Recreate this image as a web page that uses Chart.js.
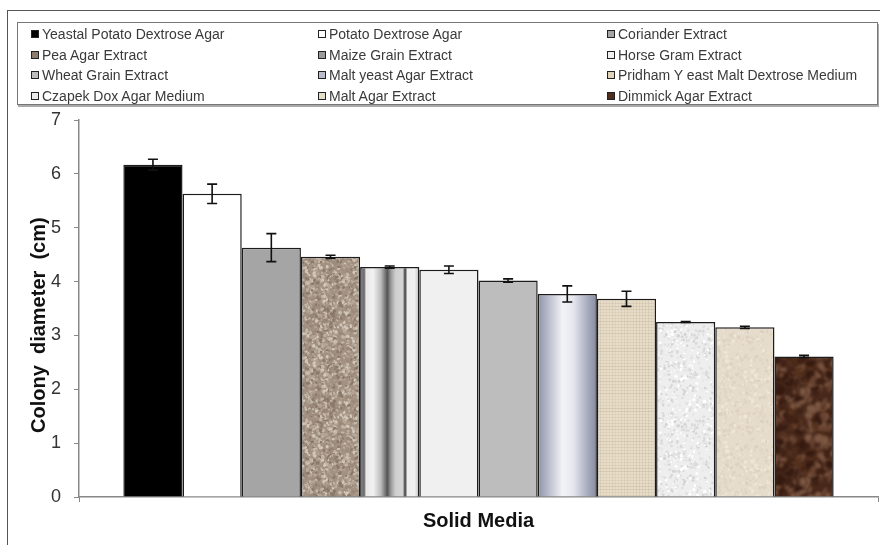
<!DOCTYPE html>
<html lang="en">
<head>
  <meta charset="UTF-8">
  <title>Colony diameter on solid media</title>
  <script src="https://cdn.jsdelivr.net/npm/chart.js"></script>
  <style>
    body { margin: 0; background: #fff; }
    .wrap { position: relative; width: 880px; height: 545px; overflow: hidden; background: #fff; }
    #chart { position: absolute; left: 0; top: 0; }
    .frame {
      position: absolute; left: 7px; top: 10px; right: -10px; bottom: -10px;
      border-top: 1.5px solid #555; border-left: 1.5px solid #555;
      pointer-events: none;
    }
    .legend {
      position: absolute; left: 17px; top: 22px; width: 859px; height: 81px;
      border: 1px solid #777; box-shadow: 1px 2px 0 #aaa; background: #fff;
      font-family: "Liberation Sans", Arial, sans-serif; font-size: 14px; color: #3a3a3a;
    }
    .legend .item { position: absolute; white-space: nowrap; line-height: 16px; }
    .legend .box {
      display: inline-block; width: 6px; height: 6px; border: 1.5px solid #222;
      margin-right: 3px; vertical-align: 1px;
    }
  </style>
</head>
<body>
<div class="wrap">
  <canvas id="chart" width="880" height="545"></canvas>
  <div class="frame"></div>
  <div class="legend" id="legend"></div>
</div>

<script>
// data
var media = [
  'Yeastal Potato Dextrose Agar', 'Potato Dextrose Agar', 'Coriander Extract',
  'Pea Agar Extract', 'Maize Grain Extract', 'Horse Gram Extract',
  'Wheat Grain Extract', 'Malt yeast Agar Extract', 'Pridham Y east Malt Dextrose Medium',
  'Czapek Dox Agar Medium', 'Malt Agar Extract', 'Dimmick Agar Extract'
];
var colonyDiameter = [6.17, 5.63, 4.63, 4.46, 4.27, 4.22, 4.02, 3.77, 3.68, 3.25, 3.15, 2.61];
var errorBars = [0.10, 0.18, 0.26, 0.03, 0.02, 0.07, 0.03, 0.15, 0.14, 0.01, 0.02, 0.02];
var yTicks = [0, 1, 2, 3, 4, 5, 6, 7];

// swatch colours for the legend boxes
var swatch = ['#000', '#fff', '#a5a5a5', '#8d7d6e', '#9a9a9a', '#f0f0f0',
              '#bdbdbd', '#b9bccb', '#ded2b8', '#ececec', '#e6dccc', '#4e2c20'];

// simple seeded generator, used only for the surface textures
function lcg(seed) {
  var s = seed >>> 0;
  return function() { s = (s * 1664525 + 1013904223) >>> 0; return s / 4294967296; };
}

// tileable speckle texture: spots are drawn with wrap-around copies on a
// 3x3 sheet, then the middle tile is cut out so the pattern has no seams
function speckle(base, spots, count, rMin, rMax, seed, blur) {
  var T = 90;
  var big = document.createElement('canvas');
  big.width = T * 3; big.height = T * 3;
  var b = big.getContext('2d');
  var r = lcg(seed);
  b.fillStyle = base;
  b.fillRect(0, 0, T * 3, T * 3);
  if (blur) b.filter = 'blur(' + blur + 'px)';
  for (var i = 0; i < count; i++) {
    var col = spots[Math.floor(r() * spots.length)];
    var x = r() * T, y = r() * T;
    var rx = rMin + r() * (rMax - rMin), ry = rMin + r() * (rMax - rMin), rot = r() * 3;
    b.fillStyle = col;
    for (var ox = 0; ox < 3; ox++) {
      for (var oy = 0; oy < 3; oy++) {
        b.beginPath();
        b.ellipse(x + ox * T, y + oy * T, rx, ry, rot, 0, Math.PI * 2);
        b.fill();
      }
    }
  }
  var c = document.createElement('canvas');
  c.width = T; c.height = T;
  c.getContext('2d').drawImage(big, T, T, T, T, 0, 0, T, T);
  return c.getContext('2d').createPattern(c, 'repeat');
}

function canvasWeave() {
  var c = document.createElement('canvas');
  c.width = 60; c.height = 60;
  var g = c.getContext('2d');
  var r = lcg(17);
  g.fillStyle = '#e6dcc8';
  g.fillRect(0, 0, 60, 60);
  for (var i = 0; i < 60; i += 3) {
    g.fillStyle = 'rgba(170,150,115,' + (0.08 + r() * 0.22) + ')';
    g.fillRect(0, i, 60, 1);
    g.fillStyle = 'rgba(170,150,115,' + (0.05 + r() * 0.18) + ')';
    g.fillRect(i, 0, 1, 60);
  }
  return g.createPattern(c, 'repeat');
}

var ctx = document.getElementById('chart').getContext('2d');

var fills = [
  '#000000',
  '#ffffff',
  '#a5a5a5',
  speckle('#a39282', ['#8a796a', '#c3b6a7', '#d3c8bb', '#9a8979', '#b3a494'], 1300, 0.7, 2.0, 3, 0.4),
  '#c8c8c8',
  '#f0f0f0',
  '#bdbdbd',
  '#c0c3d0',
  canvasWeave(),
  speckle('#eeeeee', ['#dcdcdc', '#ffffff', '#d4d4d4', '#e6e6e6'], 600, 0.6, 1.8, 9, 0.3),
  speckle('#e6dccc', ['#ddd1bf', '#eee6d9', '#e1d6c4'], 500, 0.6, 2.2, 5, 0.5),
  speckle('#4a2a1d', ['#351a10', '#6a4433', '#57331f', '#7c5843', '#3f2216'], 320, 1.5, 5, 21, 1.5)
];

// horizontal gradients for the metallic looking bars
var gradientStops = {
  4: [[0, '#8a8a8a'], [0.07, '#6a6a6a'], [0.1, '#e8e8e8'], [0.22, '#f2f2f2'], [0.35, '#bdbdbd'],
      [0.46, '#555555'], [0.52, '#9a9a9a'], [0.6, '#cfcfcf'], [0.72, '#d5d5d5'], [0.76, '#3a3a3a'],
      [0.8, '#eeeeee'], [0.92, '#f2f2f2'], [1, '#bcbcbc']],
  7: [[0, '#8d91a5'], [0.15, '#b1b5c6'], [0.42, '#f3f3f7'], [0.6, '#e6e7ee'], [0.85, '#a6aabc'], [1, '#878b9f']]
};

var gradientPlugin = {
  id: 'barGradients',
  beforeDatasetsDraw: function(chart) {
    Object.keys(gradientStops).forEach(function(k) {
      var el = chart.getDatasetMeta(+k).data[0];
      if (!el) return;
      var g = chart.ctx.createLinearGradient(el.x - el.width / 2, 0, el.x + el.width / 2, 0);
      gradientStops[k].forEach(function(s) { g.addColorStop(s[0], s[1]); });
      el.options.backgroundColor = g;
    });
  }
};

var errorBarPlugin = {
  id: 'errorBars',
  afterDatasetsDraw: function(chart) {
    var y = chart.scales.y;
    var c = chart.ctx;
    c.save();
    c.strokeStyle = '#111';
    c.lineWidth = 1.6;
    chart.data.datasets.forEach(function(ds, i) {
      var el = chart.getDatasetMeta(i).data[0];
      var v = ds.data[0], e = errorBars[i];
      var top = y.getPixelForValue(v + e), bot = y.getPixelForValue(v - e);
      c.beginPath();
      c.moveTo(el.x, top); c.lineTo(el.x, bot);
      c.moveTo(el.x - 5, top); c.lineTo(el.x + 5, top);
      c.moveTo(el.x - 5, bot); c.lineTo(el.x + 5, bot);
      c.stroke();
    });
    c.restore();
  }
};

var chart = new Chart(ctx, {
  type: 'bar',
  data: {
    labels: [''],
    datasets: media.map(function(name, i) {
      return {
        label: name,
        data: [colonyDiameter[i]],
        backgroundColor: fills[i],
        borderColor: '#1c1c1c',
        borderWidth: 1.5,
        categoryPercentage: 0.889,
        barPercentage: 1
      };
    })
  },
  options: {
    responsive: false,
    animation: false,
    layout: { padding: { top: 120, right: 2, left: 0, bottom: 0 } },
    plugins: {
      legend: { display: false },
      tooltip: { enabled: false }
    },
    scales: {
      x: {
        afterFit: function(s) { s.height = 48; },
        ticks: { display: false },
        grid: { display: true, drawOnChartArea: false, tickLength: 5, color: '#888' },
        border: { color: '#888', width: 1.5 },
        title: {
          display: true, text: 'Solid Media', color: '#111',
          font: { family: '"Liberation Sans", Arial, sans-serif', size: 20, weight: 'bold' },
          padding: { top: 0, bottom: 12 }
        }
      },
      y: {
        min: yTicks[0],
        max: yTicks[yTicks.length - 1],
        afterFit: function(s) { s.width = 79; },
        afterBuildTicks: function(s) { s.ticks = yTicks.map(function(v) { return { value: v }; }); },
        ticks: {
          padding: 13, color: '#333',
          font: { family: '"Liberation Sans", Arial, sans-serif', size: 18 }
        },
        grid: { drawOnChartArea: false, tickLength: 5, color: '#888' },
        border: { color: '#888', width: 1.5 },
        title: {
          display: true,
          // trailing spaces push the centred label down, as in the figure
          text: 'Colony  diameter  (cm)      ',
          color: '#111',
          font: { family: '"Liberation Sans", Arial, sans-serif', size: 20, weight: 'bold' },
          padding: { top: 27, bottom: 0 }
        }
      }
    }
  },
  plugins: [gradientPlugin, errorBarPlugin]
});

// legend, three columns as in the figure
var legend = document.getElementById('legend');
var colX = [13, 300, 589];
chart.data.datasets.forEach(function(ds, i) {
  var item = document.createElement('div');
  item.className = 'item';
  item.style.left = colX[i % 3] + 'px';
  item.style.top = (3 + Math.floor(i / 3) * 20.5) + 'px';
  var box = document.createElement('span');
  box.className = 'box';
  box.style.background = swatch[i];
  item.appendChild(box);
  item.appendChild(document.createTextNode(ds.label));
  legend.appendChild(item);
});
</script>
</body>
</html>
